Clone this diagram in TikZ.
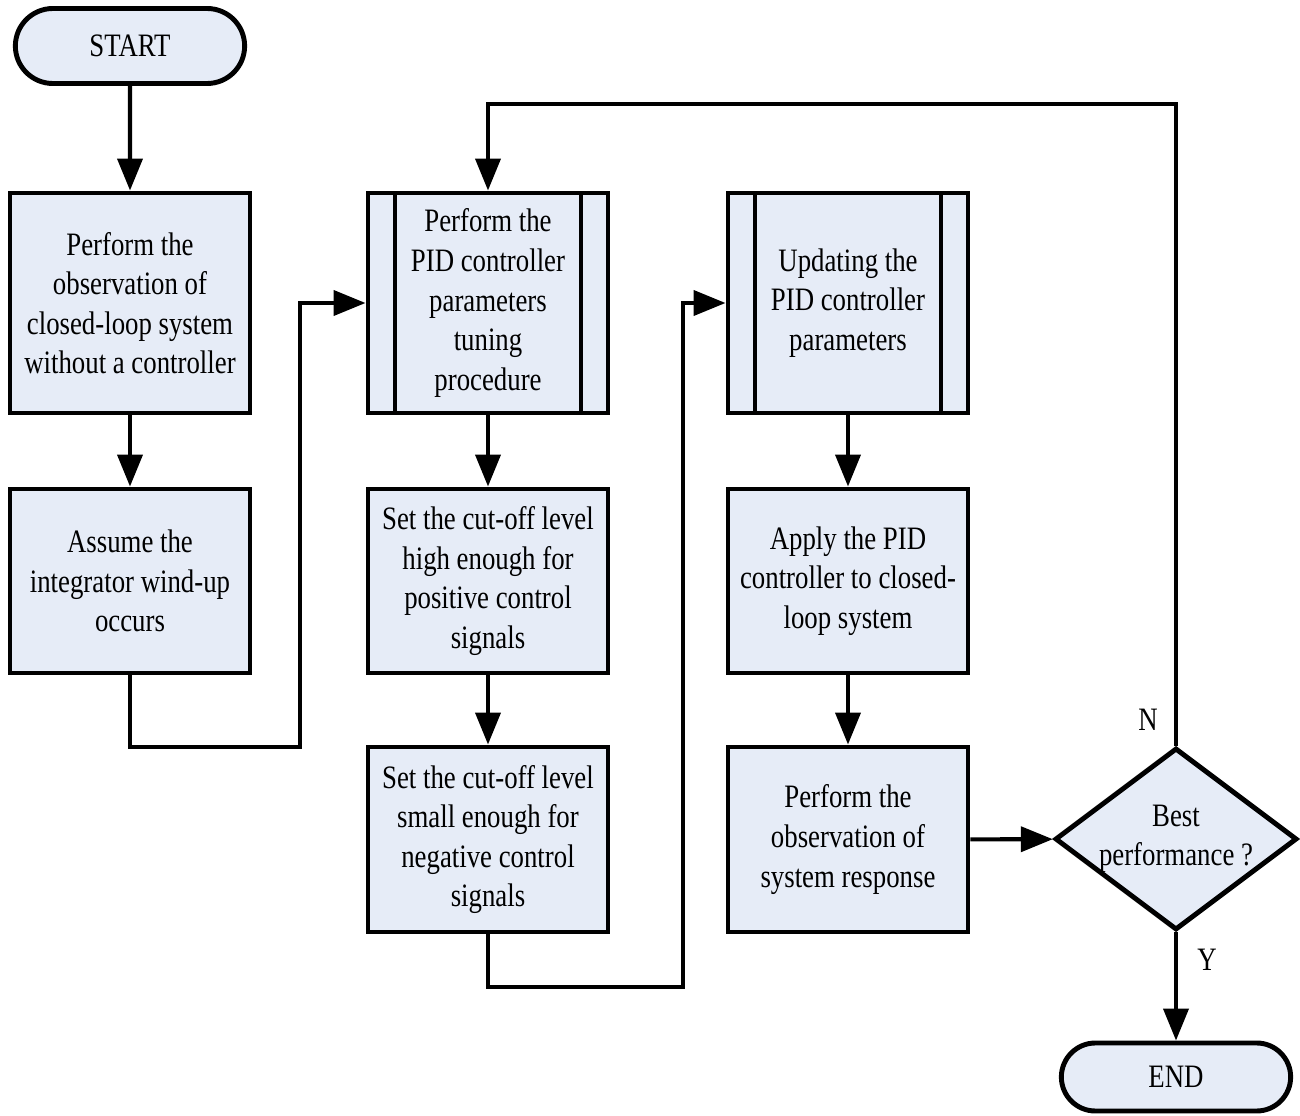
\documentclass[tikz,border=0pt]{standalone}
\usepackage{fontspec}
\setmainfont{Liberation Serif}[FakeStretch=0.82]
\usepackage{tikz}
\usetikzlibrary{arrows.meta,shapes.geometric,shapes.misc}
\definecolor{boxfill}{HTML}{E6ECF7}

\begin{document}
\begin{tikzpicture}[font=\fontsize{18.6}{22.5}\selectfont,
	every node/.style={align=center},
	term/.style={rounded rectangle, draw, fill=boxfill, line width=2.8pt,
		minimum width=4.82cm, minimum height=1.5cm},
	proc/.style={rectangle, draw, fill=boxfill, line width=2.8pt,
		minimum width=4.8cm, minimum height=3.68cm, inner sep=2pt},
	subproc/.style={proc, minimum height=4.4cm,
		path picture={
			\draw[line width=2.4pt] ([xshift=5.4mm]path picture bounding box.north west) -- ([xshift=5.4mm]path picture bounding box.south west);
			\draw[line width=2.4pt] ([xshift=-5.4mm]path picture bounding box.north east) -- ([xshift=-5.4mm]path picture bounding box.south east);}},
	decision/.style={diamond, draw, fill=boxfill, line width=2.8pt,
		minimum width=4.84cm, minimum height=3.64cm, inner sep=0pt},
	flow/.style={line width=2.3pt, -{Triangle[length=6.4mm,width=5mm]}}]
	
	\useasboundingbox (0,0) rectangle (26,-22.32);
	
	\node[term] (start) at (2.6,-0.92) {START};
	\node[proc, minimum height=4.4cm] (observe) at (2.6,-6.06) {Perform the\\observation of\\closed-loop system\\without a controller};
	\node[proc] (windup) at (2.6,-11.62) {Assume the\\integrator wind-up\\occurs};
	
	\node[subproc] (tuning) at (9.76,-6.06) {Perform the\\PID controller\\parameters\\tuning\\procedure};
	\node[proc] (cuthigh) at (9.76,-11.62) {Set the cut-off level\\high enough for\\positive control\\signals};
	\node[proc, minimum height=3.7cm] (cutlow) at (9.76,-16.79) {Set the cut-off level\\small enough for\\negative control\\signals};
	
	\node[subproc] (update) at (16.96,-6.06) {Updating the\\PID controller\\parameters};
	\node[proc] (apply) at (16.96,-11.62) {Apply the PID\\controller to closed-\\loop system};
	\node[proc, minimum height=3.7cm] (response) at (16.96,-16.79) {Perform the\\observation of\\system response};
	
	\node[decision, label={[align=center]center:{Best\\performance ?}}] (best) at (23.52,-16.78) {};
	\node[term, minimum height=1.36cm] (end) at (23.52,-21.54) {END};
	
	\node (no) at (22.96,-14.4) {N};
	\node (yes) at (24.14,-19.2) {Y};
	
	\coordinate (loopA) at (6.0,-14.94);
	\coordinate (loopB) at (13.66,-19.74);
	\coordinate (loopC) at (23.52,-2.08);
	
	\draw[flow] (start) -- (observe);
	\draw[flow] (observe) -- (windup);
	\draw[flow] (windup.south) |- (loopA) |- (tuning.west);
	
	\draw[flow] (tuning) -- (cuthigh);
	\draw[flow] (cuthigh) -- (cutlow);
	\draw[flow] (cutlow.south) |- (loopB) |- (update.west);
	
	\draw[flow] (update) -- (apply);
	\draw[flow] (apply) -- (response);
	\draw[flow] (response) -- (best);
	\draw[flow] (best.north) -- (loopC) -| (tuning.north);
	\draw[flow] (best.south) -- (end.north);
	
\end{tikzpicture}
\end{document}
